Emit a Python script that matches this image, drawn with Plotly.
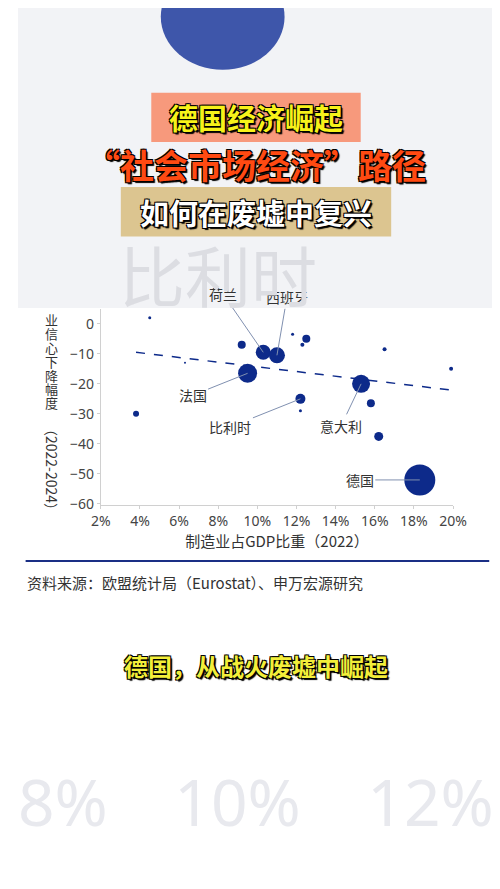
import plotly.graph_objects as go

# 数据：制造业占GDP比重 vs 工业信心下降幅度
share_gdp = [4.5, 3.8, 6.3, 9.2, 10.3, 11.0, 11.8, 12.5, 12.3, 12.2, 12.2, 9.5, 15.3, 15.8, 16.2, 16.5, 19.9, 18.3]
conf_drop = [2, -30, -13, -7, -9.5, -10.5, -3.5, -5, -7, -25, -29, -16.5, -20, -26.5, -37.5, -8.5, -15, -52]
bubble = [3, 6, 2, 8, 15, 16, 3, 8, 4, 10, 3, 19, 18, 8, 9, 4, 4, 31]
trend_x = [3.8, 19.8]
trend_y = [-9.5, -22]
x_ticks = [2, 4, 6, 8, 10, 12, 14, 16, 18, 20]
y_ticks = [0, -10, -20, -30, -40, -50, -60]

navy = "#0d2a8a"
cjk = "Noto Sans CJK SC"
fig = go.Figure()

fig.add_trace(go.Scatter(x=trend_x, y=trend_y, mode="lines",
                         line=dict(color=navy, dash="dash", width=1.5), hoverinfo="skip"))
fig.add_trace(go.Scatter(x=share_gdp, y=conf_drop, mode="markers",
                         marker=dict(size=bubble, color=navy, opacity=1, line=dict(width=0))))

# 国家标签
labels = [("法国", 9.5, -16.5, -55, 22), ("比利时", 12.2, -25, -70, 28),
          ("意大利", 15.3, -20, -20, 42), ("德国", 18.3, -52, -60, 0),
          ("荷兰", 10.3, -9.5, -40, -58), ("西班牙", 11.0, -10.5, 10, -58)]
for name, x, y, ax, ay in labels:
    fig.add_annotation(x=x, y=y, ax=ax, ay=ay, text=name, showarrow=True, arrowhead=0,
                       arrowwidth=1, arrowcolor="#8090b0", standoff=0, startstandoff=0,
                       font=dict(size=14, color="#333", family=cjk))

# 模糊背景（视频截图）
fig.add_shape(type="rect", xref="paper", yref="paper", x0=0, x1=1, y0=0.66, y1=1,
              fillcolor="#f2f3f6", line_width=0, layer="above")
fig.add_shape(type="circle", xref="paper", yref="paper", x0=0.3, x1=0.56, y0=0.93, y1=1.05,
              fillcolor="#1f3a9c", opacity=0.85, line_width=0, layer="above")
fig.add_annotation(x=0.42, y=0.7, xref="paper", yref="paper", xanchor="center", yanchor="middle",
                   text="比利时", showarrow=False,
                   font=dict(size=66, color="#dcdde2", family=cjk))
fig.add_annotation(x=0.5, y=0.1, xref="paper", yref="paper", xanchor="center", yanchor="middle",
                   text="8%    10%    12%", showarrow=False,
                   font=dict(size=64, color="#e8e9ee", family="Noto Sans"))

# 标题条
fig.add_shape(type="rect", xref="paper", yref="paper", x0=0.28, x1=0.72, y0=0.848, y1=0.904,
              fillcolor="#f7997c", line_width=0, layer="above")
fig.add_shape(type="rect", xref="paper", yref="paper", x0=0.216, x1=0.784, y0=0.741, y1=0.797,
              fillcolor="#dcc590", line_width=0, layer="above")
outline = "-1px -1px 0 #000, 1px -1px 0 #000, -1px 1px 0 #000, 1px 1px 0 #000, 2px 2px 1px #000"
titles = [("<b>德国经济崛起</b>", 0.876, 29, "#f7f21a"),
          ("<b>“社会市场经济”路径</b>", 0.823, 34, "#ff4a12"),
          ("<b>如何在废墟中复兴</b>", 0.769, 29, "#ffffff")]
for txt, yy, sz, col in titles:
    fig.add_annotation(x=0.5, y=yy, xref="paper", yref="paper", xanchor="center", yanchor="middle",
                       text=txt, showarrow=False,
                       font=dict(size=sz, color=col, family=cjk, shadow=outline))

# 纵轴标题（竖排）
for i, ch in enumerate("业信心下降幅度"):
    fig.add_annotation(x=35 / 500, y=1 - (314 + 14 * i) / 889, xref="paper", yref="paper",
                       xanchor="center", yanchor="middle", text=ch, showarrow=False,
                       borderpad=0, font=dict(size=13, color="#333", family=cjk))
fig.add_annotation(x=35 / 500, y=1 - 465 / 889, xref="paper", yref="paper", xanchor="center",
                   yanchor="middle", text="（2022-2024）", textangle=90,
                   showarrow=False, font=dict(size=14, color="#333", family=cjk))

# 资料来源与字幕
fig.add_shape(type="line", xref="paper", yref="paper", x0=0.016, x1=0.99, y0=0.373, y1=0.373,
              line=dict(color="#1a2f85", width=2))
fig.add_annotation(x=0.014, y=0.349, xref="paper", yref="paper", xanchor="left", yanchor="middle",
                   text="资料来源：欧盟统计局（Eurostat）、申万宏源研究",
                   showarrow=False, font=dict(size=15, color="#333", family=cjk))
fig.add_annotation(x=0.5, y=0.255, xref="paper", yref="paper", xanchor="center", yanchor="middle",
                   text="<b>德国，从战火废墟中崛起</b>", showarrow=False,
                   font=dict(size=24, color="#f3ee3a", family=cjk, shadow=outline))

fig.update_layout(
    width=500, height=889, margin=dict(l=0, r=0, t=0, b=0),
    paper_bgcolor="white", plot_bgcolor="white", showlegend=False,
    xaxis=dict(domain=[0.174, 0.914], range=[2, 20], tickvals=x_ticks,
               ticktext=[f"{v}%" for v in x_ticks], showgrid=False, zeroline=False,
               showline=True, linecolor="#d0d0d0", ticks="outside", tickcolor="#d0d0d0", ticklen=3,
               tickfont=dict(size=14, color="#444", family="Noto Sans"),
               title=dict(text="制造业占GDP比重（2022）", standoff=4,
                          font=dict(size=15, color="#333", family=cjk)),
               anchor="y"),
    yaxis=dict(domain=[0.436, 0.659], range=[-60.5, 5], tickvals=y_ticks, showgrid=False,
               zeroline=False, showline=True, linecolor="#d0d0d0", ticks="outside",
               tickcolor="#d0d0d0", ticklen=3,
               tickfont=dict(size=14, color="#444", family="Noto Sans")),
)

fig.write_html("out.html")
